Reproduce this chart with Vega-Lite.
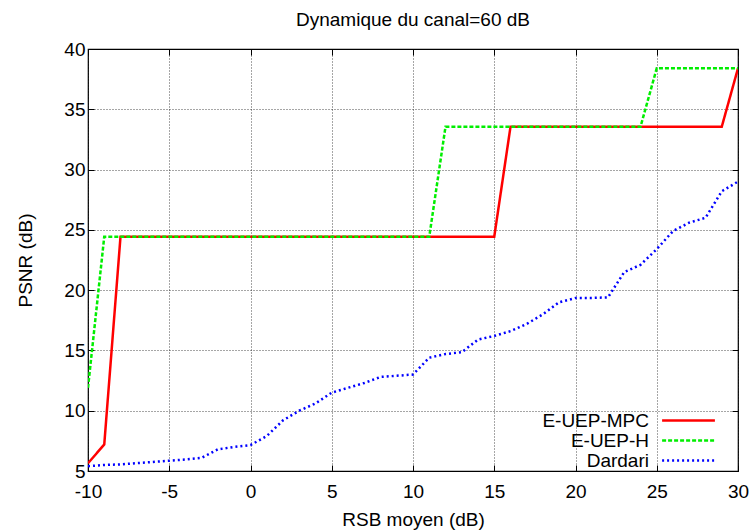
{
  "$schema": "https://vega.github.io/schema/vega-lite/v6.json",
  "width": 650,
  "height": 422,
  "padding": {"left": 88, "top": 49, "right": 16, "bottom": 61},
  "autosize": {"type": "none"},
  "background": "white",
  "title": {"text": "Dynamique du canal=60 dB", "font": "Liberation Sans", "fontSize": 19, "fontWeight": "normal", "color": "#000", "offset": 10},
  "config": {
    "view": {"stroke": "#000", "strokeWidth": 1.2},
    "font": "Liberation Sans",
    "axis": {"labelFont": "Liberation Sans", "labelFontSize": 19, "labelColor": "#000", "titleFont": "Liberation Sans", "titleFontSize": 19, "titleFontWeight": "normal", "titleColor": "#000", "domain": false, "tickColor": "#000", "gridColor": "#000", "gridOpacity": 0.7, "gridDash": [1, 2], "gridWidth": 1, "labelExpr": "'' + datum.value", "labelFlush": false}
  },
  "data": {"values": [
    {"x": -10, "y": 5.64, "s": "E-UEP-MPC"},
    {"x": -9, "y": 7.2, "s": "E-UEP-MPC"},
    {"x": -8, "y": 24.43, "s": "E-UEP-MPC"},
    {"x": 15, "y": 24.43, "s": "E-UEP-MPC"},
    {"x": 16, "y": 33.55, "s": "E-UEP-MPC"},
    {"x": 29, "y": 33.55, "s": "E-UEP-MPC"},
    {"x": 30, "y": 38.4, "s": "E-UEP-MPC"},
    {"x": -10, "y": 11.9, "s": "E-UEP-H"},
    {"x": -9, "y": 24.43, "s": "E-UEP-H"},
    {"x": 11, "y": 24.43, "s": "E-UEP-H"},
    {"x": 12, "y": 33.55, "s": "E-UEP-H"},
    {"x": 24, "y": 33.55, "s": "E-UEP-H"},
    {"x": 25, "y": 38.4, "s": "E-UEP-H"},
    {"x": 30, "y": 38.4, "s": "E-UEP-H"},
    {"x": -10, "y": 5.4, "s": "Dardari"},
    {"x": -9, "y": 5.5, "s": "Dardari"},
    {"x": -8, "y": 5.55, "s": "Dardari"},
    {"x": -7, "y": 5.65, "s": "Dardari"},
    {"x": -6, "y": 5.75, "s": "Dardari"},
    {"x": -5, "y": 5.85, "s": "Dardari"},
    {"x": -4, "y": 5.95, "s": "Dardari"},
    {"x": -3, "y": 6.1, "s": "Dardari"},
    {"x": -2, "y": 6.8, "s": "Dardari"},
    {"x": -1, "y": 7.0, "s": "Dardari"},
    {"x": 0, "y": 7.15, "s": "Dardari"},
    {"x": 1, "y": 7.9, "s": "Dardari"},
    {"x": 2, "y": 9.2, "s": "Dardari"},
    {"x": 3, "y": 10.0, "s": "Dardari"},
    {"x": 4, "y": 10.6, "s": "Dardari"},
    {"x": 5, "y": 11.5, "s": "Dardari"},
    {"x": 6, "y": 11.9, "s": "Dardari"},
    {"x": 7, "y": 12.3, "s": "Dardari"},
    {"x": 8, "y": 12.8, "s": "Dardari"},
    {"x": 9, "y": 12.9, "s": "Dardari"},
    {"x": 10, "y": 13.0, "s": "Dardari"},
    {"x": 11, "y": 14.4, "s": "Dardari"},
    {"x": 12, "y": 14.7, "s": "Dardari"},
    {"x": 13, "y": 14.85, "s": "Dardari"},
    {"x": 14, "y": 15.9, "s": "Dardari"},
    {"x": 15, "y": 16.2, "s": "Dardari"},
    {"x": 16, "y": 16.6, "s": "Dardari"},
    {"x": 17, "y": 17.2, "s": "Dardari"},
    {"x": 18, "y": 18.0, "s": "Dardari"},
    {"x": 19, "y": 19.0, "s": "Dardari"},
    {"x": 20, "y": 19.35, "s": "Dardari"},
    {"x": 21, "y": 19.35, "s": "Dardari"},
    {"x": 22, "y": 19.4, "s": "Dardari"},
    {"x": 23, "y": 21.5, "s": "Dardari"},
    {"x": 24, "y": 22.1, "s": "Dardari"},
    {"x": 25, "y": 23.4, "s": "Dardari"},
    {"x": 26, "y": 24.9, "s": "Dardari"},
    {"x": 27, "y": 25.6, "s": "Dardari"},
    {"x": 28, "y": 26.0, "s": "Dardari"},
    {"x": 29, "y": 28.2, "s": "Dardari"},
    {"x": 30, "y": 29.0, "s": "Dardari"}
  ]},
  "resolve": {"axis": {"x": "independent", "y": "independent"}},
  "layer": [
    {
      "mark": {"type": "line", "strokeWidth": 2.5, "clip": true},
      "encoding": {
        "x": {"field": "x", "type": "quantitative", "scale": {"domain": [-10, 30], "nice": false, "zero": false},
              "axis": {"title": "RSB moyen (dB)", "values": [-10, -5, 0, 5, 10, 15, 20, 25, 30], "tickSize": -6, "labelPadding": 17, "titlePadding": 9, "grid": true}},
        "y": {"field": "y", "type": "quantitative", "scale": {"domain": [5, 40], "nice": false, "zero": false},
              "axis": {"title": "PSNR (dB)", "values": [5, 10, 15, 20, 25, 30, 35, 40], "tickSize": -6, "labelPadding": 9, "titlePadding": 28, "grid": true}},
        "color": {"field": "s", "type": "nominal", "sort": ["E-UEP-MPC", "E-UEP-H", "Dardari"],
                  "scale": {"domain": ["E-UEP-MPC", "E-UEP-H", "Dardari"], "range": ["#ff0000", "#00ee00", "#0000ff"]},
                  "legend": {"title": null, "orient": "none", "legendX": 591, "legendY": 362, "symbolType": "M-3.3,0H3.3", "symbolSize": 256, "symbolStrokeWidth": 2.5, "labelAlign": "right", "labelOffset": -49, "labelFontSize": 19, "labelFont": "Liberation Sans", "labelColor": "#000", "rowPadding": -2, "labelLimit": 250, "padding": 0}},
        "strokeDash": {"field": "s", "type": "nominal",
                  "scale": {"domain": ["E-UEP-MPC", "E-UEP-H", "Dardari"], "range": [[1, 0], [4, 2], [2, 3]]},
                  "legend": null},
        "order": {"field": "x", "type": "quantitative"}
      }
    },
    {
      "mark": {"type": "point", "opacity": 0},
      "encoding": {
        "x": {"field": "x", "type": "quantitative", "scale": {"domain": [-10, 30], "nice": false, "zero": false}, "axis": {"orient": "top", "title": null, "labels": false, "grid": false, "values": [-10, -5, 0, 5, 10, 15, 20, 25, 30], "tickSize": -6}},
        "y": {"field": "y", "type": "quantitative", "scale": {"domain": [5, 40], "nice": false, "zero": false}, "axis": {"orient": "right", "title": null, "labels": false, "grid": false, "values": [5, 10, 15, 20, 25, 30, 35, 40], "tickSize": -6}}
      }
    }
  ]
}
